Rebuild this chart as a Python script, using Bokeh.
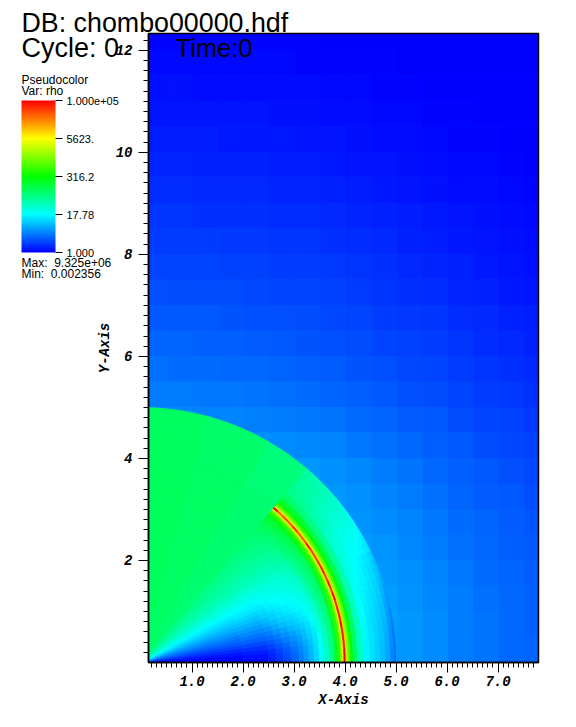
from bokeh.plotting import figure
from bokeh.embed import file_html
from bokeh.resources import INLINE
from bokeh.models import (ColumnDataSource, LinearColorMapper, ColorBar, FixedTicker, Label, Range1d)

# ---- far-field block values: log10(rho), rows from the top of the plot downward, 16 columns
x_low, x_high, y_low, y_high = 0.147, 7.794, 0.0, 12.33
far_x_edges = [x_low, 0.53, 1.03, 1.53, 2.03, 2.53, 3.03, 3.53, 4.03, 4.53, 5.03, 5.53, 6.03, 6.53, 7.03, 7.53, x_high]
far_y_edges = [y_high, 12, 11.5, 11, 10.5, 10, 9.5, 9, 8.5, 8, 7.5, 7, 6.5, 6, 5.5, 5, 4.5, 4, 3.5, 3, 2.5, 2, 1.5, 1, 0.5, y_low]
far_log_rho = [
 [.03,.03,.03,.03,.02,.02,.02,.01,.01,.01,.00,.00,.00,.00,.00,.00],
 [.05,.05,.05,.04,.04,.04,.03,.03,.02,.02,.01,.01,.00,.00,.00,.00],
 [.08,.08,.07,.07,.07,.06,.06,.05,.04,.03,.02,.01,.01,.00,.00,.00],
 [.11,.11,.10,.10,.10,.09,.08,.07,.06,.05,.04,.03,.02,.01,.00,.00],
 [.14,.14,.14,.13,.13,.12,.11,.10,.09,.07,.06,.05,.03,.02,.01,.00],
 [.18,.18,.17,.17,.16,.15,.14,.13,.11,.10,.08,.07,.05,.04,.02,.01],
 [.22,.22,.21,.21,.20,.19,.18,.16,.15,.13,.11,.09,.07,.06,.04,.03],
 [.26,.26,.25,.25,.24,.23,.22,.20,.18,.16,.14,.12,.10,.08,.06,.04],
 [.31,.30,.30,.29,.28,.27,.26,.24,.22,.20,.17,.15,.13,.10,.08,.06],
 [.35,.35,.34,.33,.32,.31,.30,.28,.26,.24,.21,.18,.16,.13,.10,.08],
 [.40,.39,.39,.38,.37,.35,.34,.32,.30,.27,.25,.22,.19,.16,.13,.11],
 [.44,.44,.43,.42,.41,.40,.38,.36,.34,.31,.29,.26,.23,.20,.16,.14],
 [.49,.49,.48,.47,.46,.44,.42,.40,.38,.35,.33,.30,.27,.23,.20,.17],
 [.55,.54,.53,.52,.51,.49,.47,.45,.42,.40,.37,.34,.31,.27,.24,.21],
 [.62,.61,.60,.59,.57,.55,.53,.50,.47,.44,.41,.38,.35,.31,.28,.25],
 [.68,.67,.66,.65,.64,.62,.60,.57,.53,.49,.46,.43,.39,.35,.32,.29],
 [.74,.74,.74,.73,.72,.70,.68,.65,.60,.55,.51,.47,.43,.39,.36,.33],
 [.78,.78,.78,.78,.78,.77,.75,.72,.67,.62,.57,.52,.47,.43,.40,.37],
 [.80,.80,.80,.80,.80,.80,.78,.75,.71,.66,.61,.56,.50,.46,.43,.39],
 [.82,.82,.82,.82,.82,.82,.80,.78,.74,.70,.65,.59,.53,.49,.46,.42],
 [.84,.84,.84,.84,.84,.84,.83,.81,.77,.73,.68,.62,.56,.52,.48,.44],
 [.86,.86,.86,.86,.86,.86,.85,.83,.80,.76,.71,.65,.59,.54,.50,.46],
 [.87,.87,.87,.87,.87,.87,.86,.84,.82,.78,.73,.67,.61,.56,.52,.47],
 [.88,.88,.88,.88,.88,.88,.87,.85,.83,.79,.75,.69,.62,.57,.52,.48],
 [.88,.88,.88,.88,.88,.88,.88,.86,.83,.80,.76,.70,.62,.57,.52,.49],
]

# ---- blast-disc values: log10(rho) by polar angle (deg, rows) and radius (columns)
disc_angle_edges = [0, 2, 4, 6, 8, 10, 12, 14, 16, 18, 20, 22, 24, 26, 28, 30, 32, 34, 36, 38, 40, 42, 44, 46, 48, 49.5, 60, 75, 90]
disc_radius_edges = [0, .15, .3, .6, 1, 1.5, 2, 2.5, 2.65, 2.8, 2.95, 3.1, 3.2, 3.3, 3.4, 3.5,
                     3.6, 3.7, 3.8, 3.86, 3.92, 3.96, 3.98, 4.02, 4.04, 4.08, 4.12, 4.16,
                     4.25, 4.37, 4.5, 4.6, 4.7, 4.8, 4.9, 4.97, 5.0]
# radii 0 .. 3.5
disc_inner = [
 [.05,.0,.0,.0,.0,.0,.05,.15,.25,.36,.5,.62,.76,.9,1.05],
 [.18,.04,.03,.03,.03,.03,.08,.18,.28,.38,.52,.64,.77,.91,1.06],
 [.32,.12,.1,.1,.1,.1,.15,.23,.33,.43,.56,.67,.8,.93,1.08],
 [.45,.24,.2,.2,.2,.2,.25,.32,.42,.51,.63,.73,.85,.97,1.1],
 [.58,.36,.31,.31,.31,.32,.36,.42,.52,.61,.72,.8,.9,1.02,1.13],
 [.7,.47,.42,.42,.42,.43,.47,.53,.62,.71,.8,.88,.96,1.06,1.17],
 [.82,.57,.52,.52,.52,.53,.57,.63,.73,.82,.9,.96,1.03,1.11,1.22],
 [.93,.67,.62,.62,.62,.63,.67,.74,.83,.92,.99,1.04,1.1,1.17,1.27],
 [1.03,.77,.72,.72,.72,.73,.77,.84,.93,1.01,1.07,1.11,1.16,1.22,1.31],
 [1.12,.87,.82,.82,.82,.83,.87,.93,1.02,1.09,1.14,1.18,1.22,1.27,1.35],
 [1.2,.97,.92,.92,.92,.93,.96,1.02,1.09,1.15,1.2,1.23,1.27,1.32,1.39],
 [1.27,1.05,1.0,1.0,1.0,1.01,1.04,1.09,1.16,1.21,1.25,1.28,1.31,1.36,1.43],
 [1.33,1.14,1.1,1.1,1.1,1.11,1.14,1.17,1.22,1.27,1.3,1.33,1.36,1.41,1.47],
 [1.38,1.22,1.18,1.18,1.18,1.19,1.21,1.24,1.28,1.32,1.35,1.38,1.41,1.45,1.51],
 [1.44,1.29,1.25,1.25,1.25,1.26,1.28,1.31,1.34,1.38,1.4,1.43,1.46,1.5,1.56],
 [1.5,1.37,1.34,1.34,1.34,1.35,1.36,1.38,1.39,1.41,1.43,1.45,1.48,1.53,1.59],
 [1.56,1.44,1.42,1.42,1.42,1.43,1.44,1.46,1.47,1.49,1.5,1.52,1.55,1.59,1.65],
 [1.61,1.51,1.5,1.5,1.5,1.51,1.52,1.53,1.54,1.56,1.57,1.59,1.61,1.65,1.7],
 [1.66,1.58,1.57,1.57,1.57,1.58,1.59,1.6,1.61,1.62,1.64,1.66,1.68,1.71,1.76],
 [1.71,1.64,1.63,1.63,1.63,1.64,1.65,1.66,1.67,1.68,1.7,1.72,1.74,1.77,1.81],
 [1.75,1.69,1.68,1.68,1.68,1.69,1.7,1.71,1.72,1.74,1.75,1.77,1.79,1.82,1.86],
 [1.79,1.74,1.73,1.73,1.73,1.74,1.75,1.76,1.77,1.79,1.8,1.82,1.84,1.87,1.9],
 [1.83,1.79,1.78,1.78,1.78,1.79,1.8,1.81,1.82,1.83,1.85,1.86,1.88,1.91,1.94],
 [1.87,1.83,1.82,1.82,1.82,1.83,1.84,1.85,1.86,1.87,1.88,1.9,1.92,1.94,1.97],
 [1.9,1.87,1.86,1.86,1.86,1.87,1.88,1.89,1.9,1.91,1.92,1.93,1.95,1.97,2.0],
 [1.96,1.96,1.96,1.96,1.96,1.96,1.96,1.96,1.96,1.96,1.96,1.96,1.96,1.96,1.96],
 [2.02,2.02,2.02,2.02,2.02,2.02,2.02,2.02,2.02,2.02,2.02,2.02,2.02,2.02,2.02],
 [2.07,2.07,2.07,2.07,2.07,2.07,2.07,2.07,2.07,2.07,2.07,2.07,2.07,2.07,2.07],
]
# radii 3.5 .. 4.16 (the dense shell)
disc_shell = [
 [1.28,1.52,1.8,2.3,2.7,3.2,3.8,5.0,3.9,3.2,2.8,2.5],
 [1.29,1.53,1.8,2.3,2.7,3.2,3.8,5.0,3.9,3.2,2.8,2.5],
 [1.3,1.54,1.82,2.3,2.7,3.2,3.8,4.9,3.9,3.2,2.8,2.5],
 [1.32,1.56,1.84,2.3,2.7,3.2,3.8,4.9,3.9,3.2,2.8,2.5],
 [1.34,1.58,1.85,2.3,2.7,3.2,3.8,4.9,3.9,3.2,2.8,2.5],
 [1.37,1.6,1.87,2.3,2.7,3.2,3.8,5.0,3.9,3.2,2.8,2.5],
 [1.4,1.63,1.89,2.3,2.7,3.2,3.8,4.9,3.9,3.2,2.8,2.5],
 [1.44,1.66,1.9,2.3,2.7,3.2,3.8,4.9,3.9,3.2,2.8,2.5],
 [1.48,1.69,1.92,2.3,2.7,3.2,3.8,4.8,3.9,3.2,2.8,2.5],
 [1.52,1.72,1.93,2.3,2.7,3.2,3.8,5.0,3.9,3.2,2.8,2.5],
 [1.56,1.75,1.95,2.3,2.7,3.2,3.8,4.8,3.8,3.2,2.8,2.5],
 [1.6,1.78,1.97,2.3,2.7,3.2,3.8,4.9,3.8,3.2,2.8,2.5],
 [1.63,1.8,1.98,2.3,2.7,3.2,3.8,4.7,3.8,3.2,2.8,2.5],
 [1.67,1.83,2.0,2.3,2.7,3.2,3.8,4.9,3.8,3.2,2.8,2.5],
 [1.71,1.85,2.01,2.3,2.7,3.2,3.8,4.8,3.8,3.2,2.8,2.5],
 [1.75,1.88,2.03,2.3,2.7,3.2,3.8,4.7,3.8,3.2,2.8,2.5],
 [1.8,1.92,2.05,2.3,2.7,3.2,3.8,4.7,3.8,3.2,2.8,2.5],
 [1.85,1.95,2.07,2.32,2.7,3.2,3.8,4.9,3.8,3.2,2.8,2.5],
 [1.89,1.99,2.1,2.35,2.7,3.2,3.8,4.6,3.8,3.2,2.8,2.5],
 [1.93,2.02,2.12,2.37,2.7,3.2,3.8,4.6,3.8,3.2,2.8,2.5],
 [1.96,2.05,2.15,2.38,2.7,3.2,3.8,4.8,3.8,3.2,2.8,2.52],
 [1.99,2.08,2.18,2.4,2.7,3.2,3.8,4.6,3.8,3.2,2.8,2.53],
 [2.01,2.1,2.2,2.4,2.7,3.2,3.8,4.7,3.8,3.2,2.8,2.55],
 [2.03,2.12,2.22,2.4,2.7,3.2,3.8,4.5,3.8,3.2,2.8,2.55],
 [2.05,2.14,2.24,2.4,2.7,3.2,3.8,5.0,3.8,3.2,2.8,2.55],
 [1.96,1.96,1.96,1.96,1.96,1.96,1.96,1.96,1.96,1.96,1.95,1.95],
 [2.02,2.02,2.02,2.02,2.02,2.02,2.02,2.02,2.02,2.02,2.02,2.02],
 [2.07,2.07,2.07,2.07,2.07,2.07,2.07,2.07,2.07,2.07,2.07,2.07],
]
# radii 4.16 .. 5.0
disc_outer = [
 [2.05,1.55,1.2,1.1,1.02,.93,.83,.68,.55],
 [2.05,1.55,1.2,1.1,1.02,.93,.83,.68,.55],
 [2.05,1.55,1.21,1.11,1.03,.94,.85,.7,.58],
 [2.05,1.55,1.22,1.12,1.04,.96,.87,.72,.6],
 [2.05,1.56,1.23,1.13,1.06,.98,.89,.75,.62],
 [2.05,1.57,1.24,1.15,1.08,1.0,.92,.78,.65],
 [2.06,1.58,1.25,1.17,1.1,1.03,.95,.82,.7],
 [2.07,1.59,1.27,1.19,1.13,1.06,.98,.85,.74],
 [2.08,1.6,1.29,1.21,1.15,1.09,1.02,.9,.8],
 [2.09,1.62,1.31,1.23,1.18,1.12,1.05,.94,.85],
 [2.1,1.64,1.33,1.25,1.2,1.14,1.08,.98,.9],
 [2.11,1.66,1.35,1.27,1.22,1.17,1.11,1.02,.95],
 [2.12,1.68,1.38,1.3,1.25,1.2,1.14,1.06,1.0],
 [2.12,1.7,1.41,1.33,1.28,1.25,1.22,1.16,1.1],
 [2.13,1.72,1.44,1.36,1.31,1.28,1.25,1.2,1.15],
 [2.15,1.74,1.47,1.4,1.35,1.33,1.3,1.26,1.22],
 [2.16,1.78,1.52,1.44,1.4,1.38,1.36,1.31,1.28],
 [2.18,1.82,1.56,1.49,1.44,1.43,1.41,1.37,1.34],
 [2.2,1.85,1.61,1.54,1.49,1.48,1.47,1.43,1.4],
 [2.22,1.88,1.65,1.58,1.53,1.53,1.52,1.49,1.46],
 [2.23,1.91,1.69,1.62,1.58,1.58,1.57,1.54,1.52],
 [2.25,1.94,1.74,1.68,1.63,1.63,1.62,1.59,1.57],
 [2.26,1.96,1.78,1.72,1.68,1.68,1.67,1.64,1.62],
 [2.27,1.98,1.81,1.75,1.72,1.72,1.71,1.68,1.66],
 [2.28,2.0,1.84,1.79,1.75,1.75,1.74,1.71,1.69],
 [1.94,1.94,1.93,1.93,1.92,1.92,1.9,1.88,1.88],
 [2.01,2.0,2.0,2.0,2.0,2.0,1.99,1.98,1.98],
 [2.06,2.06,2.05,2.05,2.05,2.05,2.05,2.04,2.04],
]

x_ticks = [1, 2, 3, 4, 5, 6, 7]
x_labels = ["1.0", "2.0", "3.0", "4.0", "5.0", "6.0", "7.0"]
y_ticks = [2, 4, 6, 8, 10, 12]
y_labels = ["2", "4", "6", "8", "10", "12"]
legend_ticks = [0, 1.25, 2.5, 3.75, 5]
legend_labels = ["1.000", "17.78", "316.2", "5623.", "1.000e+05"]

W, H = 570, 716
PLOT_L, PLOT_R, PLOT_T, PLOT_B = 148, 538, 33, 662
sx = (PLOT_R - PLOT_L) / (x_high - x_low)
sy = (PLOT_B - PLOT_T) / (y_high - y_low)

anchors = [(0, 0, 255), (0, 255, 255), (0, 255, 0), (255, 255, 0), (255, 0, 0)]
palette = []
for i in range(256):
    t = i / 255 * 4
    k = min(int(t), 3)
    f = t - k
    c = [round(anchors[k][j] + (anchors[k + 1][j] - anchors[k][j]) * f) for j in range(3)]
    palette.append("#%02x%02x%02x" % tuple(c))
mapper = LinearColorMapper(palette=palette, low=0, high=5)
cmap = {"field": "v", "transform": mapper}

# The frame fills the whole page so that the header and legend texts can sit beside the plot.
p = figure(width=W, height=H, output_backend="svg", toolbar_location=None,
           x_range=Range1d(x_low - PLOT_L / sx, x_low + (W - PLOT_L) / sx),
           y_range=Range1d(y_low - (H - PLOT_B) / sy, y_low + PLOT_B / sy),
           min_border_left=0, min_border_right=0, min_border_top=0, min_border_bottom=0,
           background_fill_color="white", outline_line_color=None)
p.grid.visible = False

far = dict(l=[], r=[], t=[], b=[], v=[])
for i, row in enumerate(far_log_rho):
    for j, v in enumerate(row):
        far["l"].append(far_x_edges[j]); far["r"].append(far_x_edges[j + 1])
        far["t"].append(far_y_edges[i]); far["b"].append(far_y_edges[i + 1]); far["v"].append(v)
p.quad(left="l", right="r", top="t", bottom="b", source=ColumnDataSource(far),
       fill_color=cmap, line_color=cmap, line_width=1)

disc = dict(ri=[], ro=[], a0=[], a1=[], v=[])
for i in range(len(disc_inner)):
    row = disc_inner[i] + disc_shell[i] + disc_outer[i]
    for j, v in enumerate(row):
        disc["ri"].append(disc_radius_edges[j]); disc["ro"].append(disc_radius_edges[j + 1])
        disc["a0"].append(disc_angle_edges[i]); disc["a1"].append(disc_angle_edges[i + 1]); disc["v"].append(v)
p.annular_wedge(x=0, y=0, inner_radius="ri", outer_radius="ro", start_angle="a0", end_angle="a1",
                start_angle_units="deg", end_angle_units="deg", source=ColumnDataSource(disc),
                fill_color=cmap, line_color=cmap, line_width=0.8)

# The disc is centred left of the plot's edge: white masks trim it to the plot area.
p.quad(left=x_low - 0.5, right=x_low, top=5.2, bottom=y_low - 0.2, fill_color="white", line_color=None)
p.quad(left=x_low, right=5.2, top=y_low, bottom=y_low - 0.2, fill_color="white", line_color=None)
p.quad(left=x_low, right=x_high, top=y_high, bottom=y_low, fill_color=None, line_color="black", line_width=1.5)

ax, ay = p.xaxis[0], p.yaxis[0]
ax.fixed_location = y_low
ay.fixed_location = x_low
ax.bounds = (x_low, x_high)
ay.bounds = (y_low, y_high)
ax.ticker = FixedTicker(ticks=x_ticks, minor_ticks=[i / 10 for i in range(2, 78)])
ay.ticker = FixedTicker(ticks=y_ticks, minor_ticks=[i / 5 for i in range(1, 62)])
ax.major_label_overrides = dict(zip(x_ticks, x_labels))
ay.major_label_overrides = dict(zip(y_ticks, y_labels))
ay.major_label_orientation = "horizontal"
for a, label in ((ax, "X-Axis"), (ay, "Y-Axis")):
    a.axis_label = label
    a.axis_label_text_font = "Liberation Mono"
    a.axis_label_text_font_style = "bold italic"
    a.axis_label_text_font_size = "14px"
    a.axis_label_text_color = "black"
    a.major_label_text_font = "Liberation Mono"
    a.major_label_text_font_style = "bold italic"
    a.major_label_text_font_size = "14px"
    a.major_label_text_color = "black"
    a.axis_line_color = "black"; a.axis_line_width = 1.5
    a.major_tick_line_color = "black"; a.minor_tick_line_color = "black"
    a.major_tick_in = 0; a.minor_tick_in = 0
    a.major_tick_out = 10; a.minor_tick_out = 5
ax.major_label_standoff = 3
ax.axis_label_standoff = 3
ay.major_label_standoff = 6
ay.axis_label_standoff = 0

bar = ColorBar(color_mapper=mapper, ticker=FixedTicker(ticks=legend_ticks),
               major_label_overrides=dict(zip(legend_ticks, legend_labels)),
               width=34, height=152, padding=0, margin=0, location=(21, H - 252),
               major_tick_in=0, major_tick_out=7, major_tick_line_color="black",
               major_label_text_font="Liberation Sans", major_label_text_font_size="11px",
               major_label_text_color="black", label_standoff=4, bar_line_color=None,
               background_fill_color=None, border_line_color=None, minor_tick_line_color=None)
p.add_layout(bar, "center")

notes = [("DB: chombo00000.hdf", 21, 22, 26.8), ("Cycle: 0", 21, 47, 27), ("Time:0", 175, 47, 25.5),
         ("Pseudocolor", 21, 79, 12), ("Var: rho", 21, 90, 12),
         ("Max:\u00a0 9.325e+06", 21, 262, 12), ("Min:\u00a0 0.002356", 21, 273, 12)]
for txt, px, py, size in notes:
    p.add_layout(Label(x=px, y=H - py, x_units="screen", y_units="screen", text=txt,
                       text_font="Liberation Sans", text_font_size=f"{size}px", text_color="black",
                       text_baseline="middle", text_align="left"))

open("out.html", "w").write(file_html(p, INLINE))
